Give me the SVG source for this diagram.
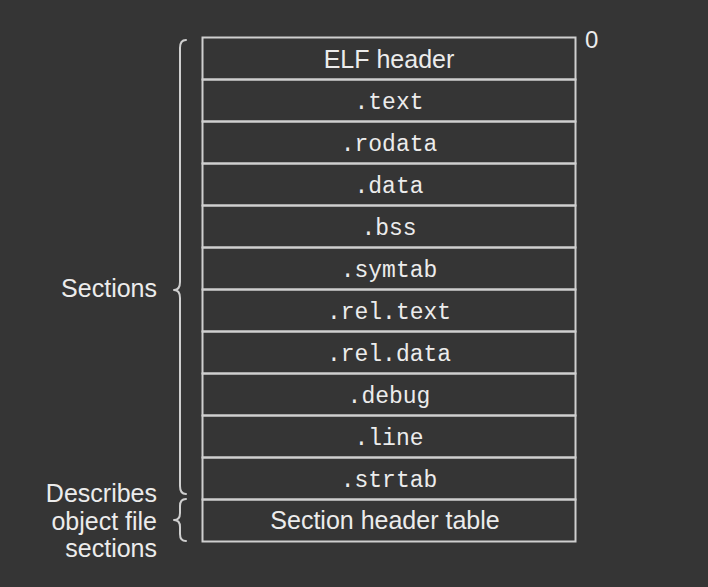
<svg xmlns="http://www.w3.org/2000/svg" width="708" height="587" viewBox="0 0 708 587">
<style>
.cell{fill:none;stroke:#cfcfcf;stroke-width:2}
.brace{fill:none;stroke:#cfcfcf;stroke-width:2;stroke-linecap:round;stroke-linejoin:round}
.sans{font-family:"Liberation Sans",Arial,sans-serif;font-size:25px;fill:#ececec}
.mono{font-family:"Liberation Mono","Courier New",monospace;font-size:23px;fill:#ececec}
.zero{font-family:"Liberation Sans",Arial,sans-serif;font-size:24px;fill:#ececec}
.c{text-anchor:middle}
.r{text-anchor:end}
</style>
<rect x="0" y="0" width="708" height="587" fill="#353535"/>
<g id="table">
<g id="row-elf-header"><rect class="cell" x="202.5" y="37.5" width="373" height="42"/><text class="sans c" x="389" y="67.5">ELF header</text></g>
<g id="row-text"><rect class="cell" x="202.5" y="79.5" width="373" height="42"/><text class="mono c" x="389" y="108.5">.text</text></g>
<g id="row-rodata"><rect class="cell" x="202.5" y="121.5" width="373" height="42"/><text class="mono c" x="389" y="150.5">.rodata</text></g>
<g id="row-data"><rect class="cell" x="202.5" y="163.5" width="373" height="42"/><text class="mono c" x="389" y="192.5">.data</text></g>
<g id="row-bss"><rect class="cell" x="202.5" y="205.5" width="373" height="42"/><text class="mono c" x="389" y="234.5">.bss</text></g>
<g id="row-symtab"><rect class="cell" x="202.5" y="247.5" width="373" height="42"/><text class="mono c" x="389" y="276.5">.symtab</text></g>
<g id="row-rel-text"><rect class="cell" x="202.5" y="289.5" width="373" height="42"/><text class="mono c" x="389" y="318.5">.rel.text</text></g>
<g id="row-rel-data"><rect class="cell" x="202.5" y="331.5" width="373" height="42"/><text class="mono c" x="389" y="360.5">.rel.data</text></g>
<g id="row-debug"><rect class="cell" x="202.5" y="373.5" width="373" height="42"/><text class="mono c" x="389" y="402.5">.debug</text></g>
<g id="row-line"><rect class="cell" x="202.5" y="415.5" width="373" height="42"/><text class="mono c" x="389" y="444.5">.line</text></g>
<g id="row-strtab"><rect class="cell" x="202.5" y="457.5" width="373" height="42"/><text class="mono c" x="389" y="486.5">.strtab</text></g>
<g id="row-section-header-table"><rect class="cell" x="202.5" y="499.5" width="373" height="42"/><text class="sans c" x="385" y="528.5">Section header table</text></g>
</g>
<g id="offset-label"><text class="zero" x="585" y="48">0</text></g>
<g id="connectors">
<path class="brace" d="M186,40 Q180,40 180,48 L180,282 Q180,290 174,290 Q180,290 180,298 L180,486 Q180,494 186,494"/>
<path class="brace" d="M186,499 Q180,499 180,506 L180,513 Q180,520 174,520 Q180,520 180,527 L180,534 Q180,541 186,541"/>
</g>
<g id="label-sections"><text class="sans r" x="157" y="297">Sections</text></g>
<g id="label-describes">
<text class="sans r" x="157" y="502">Describes</text>
<text class="sans r" x="157" y="529.5">object file</text>
<text class="sans r" x="157" y="557">sections</text>
</g>
</svg>
